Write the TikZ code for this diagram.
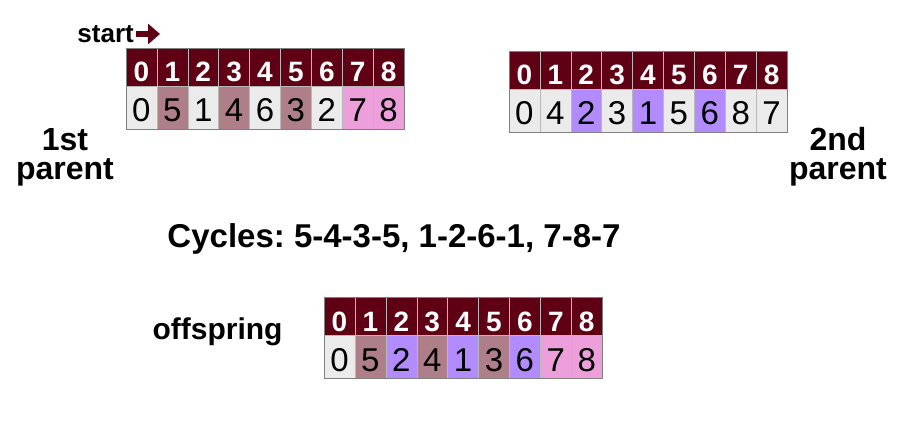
\documentclass[tikz,border=0pt]{standalone}
\usepackage{fontspec}
\setmainfont{Liberation Sans}
\usetikzlibrary{arrows.meta}
\frenchspacing

\definecolor{maroon}{HTML}{600015}
\definecolor{cellgray}{HTML}{EBEBEB}
\definecolor{mauve}{HTML}{AE7F89}
\definecolor{pink}{HTML}{ED9FDC}
\definecolor{lilac}{HTML}{B28CFF}

\begin{document}
\begin{tikzpicture}[x=1pt,y=-1pt,
        head/.style={draw=gray!55, fill=maroon, text=white, inner sep=0pt,
            minimum width=30.9pt, text height=34pt, text depth=4pt,
            font=\fontsize{28}{28}\selectfont\bfseries},
        gene/.style={draw=gray!55, inner sep=0pt,
            minimum width=30.9pt, text height=36pt, text depth=7pt,
            font=\fontsize{33}{33}\selectfont},
        title/.style={align=center, font=\fontsize{32}{29}\selectfont\bfseries},
        startarrow/.style={maroon, line width=6pt, -{Triangle[length=12pt,width=20pt]}}]
        \path[use as bounding box] (0,0) rectangle (903,422);

        % 1st parent
        \foreach \v/\c [count=\i from 0] in {0/cellgray,5/mauve,1/cellgray,4/mauve,6/cellgray,3/mauve,2/cellgray,7/pink,8/pink}{
            \node[head] (a\i) at ({141.4+30.9*\i},67) {\i};
            \node[gene, fill=\c] (A\i) at ({141.4+30.9*\i},107.5) {\v};
        }
        \draw[gray] (a0.north west) rectangle (A8.south east);

        % 2nd parent
        \foreach \v/\c [count=\i from 0] in {0/cellgray,4/cellgray,2/lilac,3/cellgray,1/lilac,5/cellgray,6/lilac,8/cellgray,7/cellgray}{
            \node[head] (b\i) at ({524.4+30.9*\i},70) {\i};
            \node[gene, fill=\c] (B\i) at ({524.4+30.9*\i},110.5) {\v};
        }
        \draw[gray] (b0.north west) rectangle (B8.south east);

        % offspring
        \foreach \v/\c [count=\i from 0] in {0/cellgray,5/mauve,2/lilac,4/mauve,1/lilac,3/mauve,6/lilac,7/pink,8/pink}{
            \node[head] (c\i) at ({339.5+30.9*\i},316) {\i};
            \node[gene, fill=\c] (C\i) at ({339.5+30.9*\i},356.5) {\v};
        }
        \draw[gray] (c0.north west) rectangle (C8.south east);

        \node[font=\fontsize{26}{26}\selectfont\bfseries, anchor=east, inner sep=2pt] (start) at (136,34) {start};
        \coordinate (tip) at (160,34);
        \draw[startarrow] (start.east) -- (tip);

        \node[title] (first) at (65,157) {1st\\parent};
        \node[title] (second) at (838,157) {2nd\\parent};
        \node[title, font=\fontsize{33}{33}\selectfont\bfseries, anchor=base] (cycles) at (394,248) {Cycles: 5-4-3-5, 1-2-6-1, 7-8-7};
        \node[title, font=\fontsize{30}{30}\selectfont\bfseries, anchor=base] (offspring) at (217.5,339) {offspring};
\end{tikzpicture}
\end{document}
